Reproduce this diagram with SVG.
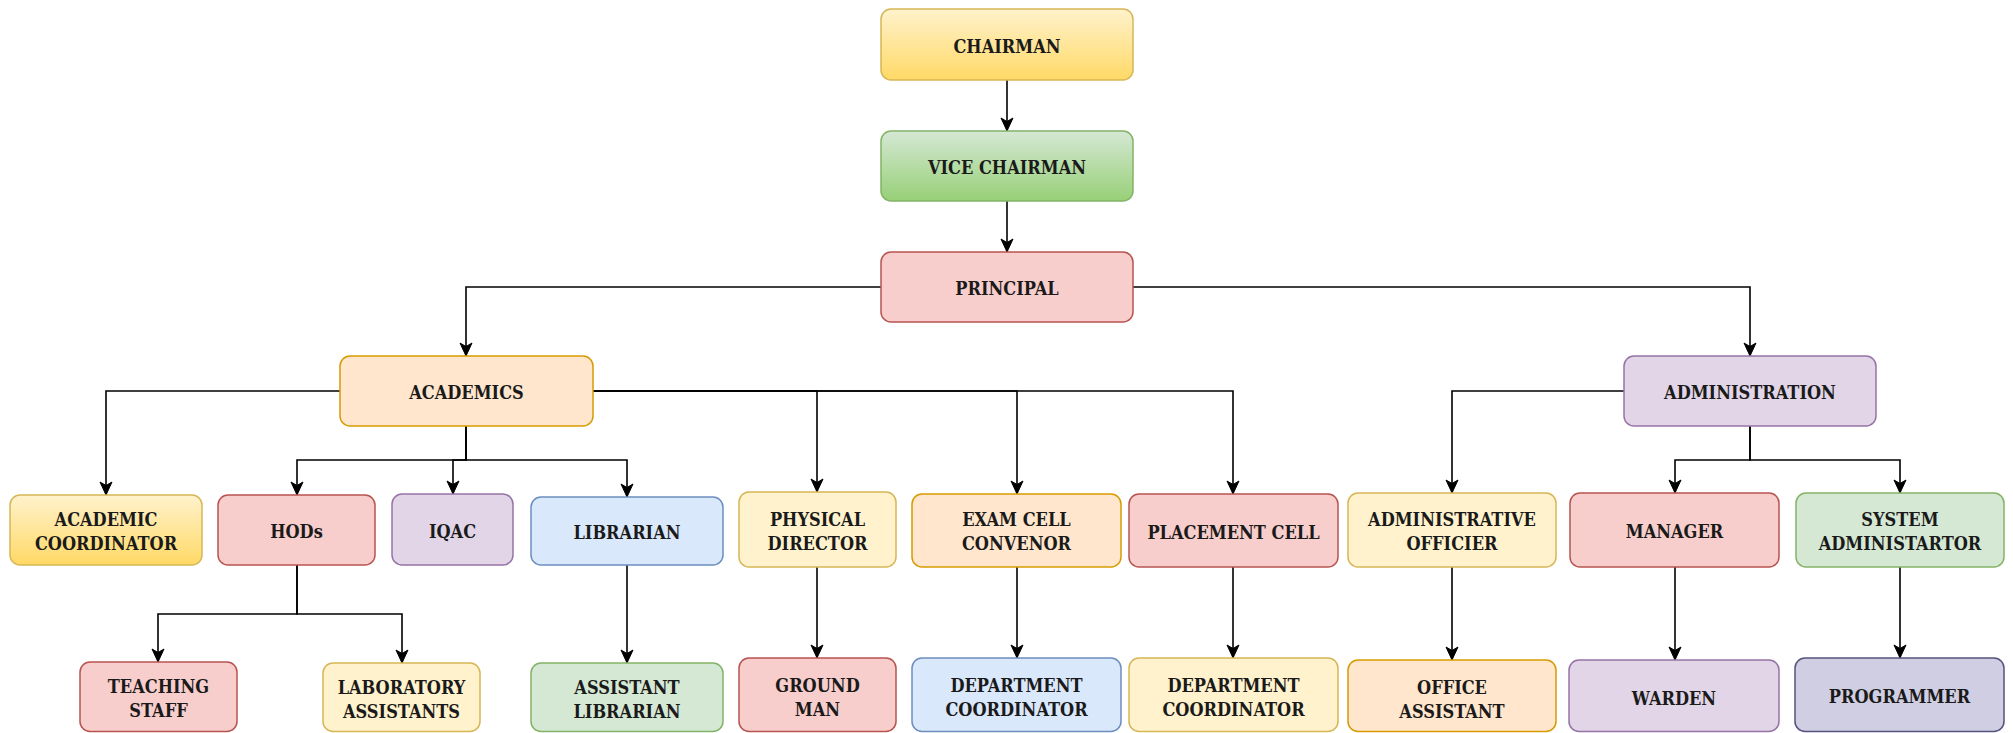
<svg xmlns="http://www.w3.org/2000/svg" width="2013" height="733" viewBox="0 0 2013 733">
<style>
text{font-family:"DejaVu Serif Condensed","DejaVu Serif","Liberation Serif",serif;font-weight:bold;font-size:18px;fill:#1a1a1a;text-anchor:middle}
.b rect{stroke-width:1.5}
.y rect{fill:#fff2cc;stroke:#d6b656}
.yg rect{fill:url(#gy);stroke:#d6b656}
.gg rect{fill:url(#gg);stroke:#82b366}
.g rect{fill:#d5e8d4;stroke:#82b366}
.r rect{fill:#f8cecc;stroke:#b85450}
.o rect{fill:#ffe6cc;stroke:#d79b00}
.p rect{fill:#e1d5e7;stroke:#9673a6}
.bl rect{fill:#dae8fc;stroke:#6c8ebf}
.n rect{fill:#d0cee2;stroke:#56517e}
#conn path{fill:none;stroke:#000;stroke-width:1.6;marker-end:url(#ar)}
</style>
<defs>
<linearGradient id="gy" x1="0" y1="0" x2="0" y2="1"><stop offset="0" stop-color="#fff2cc"/><stop offset="1" stop-color="#ffd966"/></linearGradient>
<linearGradient id="gg" x1="0" y1="0" x2="0" y2="1"><stop offset="0" stop-color="#d5e8d4"/><stop offset="1" stop-color="#97d077"/></linearGradient>
<marker id="ar" markerUnits="userSpaceOnUse" markerWidth="15" markerHeight="15" viewBox="0 0 15 15" refX="14" refY="7.5" orient="auto">
<path d="M1,1.5 L14,7.5 L1,13.5 L4.5,7.5 Z" fill="#000" stroke="#000" stroke-width="1"/>
</marker>
</defs>
<rect width="2013" height="733" fill="#fff"/>
<g id="conn">
<path d="M1007 80 V131"/>
<path d="M1007 201 V252"/>
<path d="M881 287 H466 V356"/>
<path d="M1133 287 H1750 V356"/>
<path d="M340 391 H106 V495"/>
<path d="M466 426 V460 H297 V495"/>
<path d="M466 426 V460 H453 V494"/>
<path d="M466 426 V460 H627 V497"/>
<path d="M593 391 H817 V492"/>
<path d="M593 391 H1017 V494"/>
<path d="M593 391 H1233 V494"/>
<path d="M297 565 V614 H158 V662"/>
<path d="M297 565 V614 H402 V663"/>
<path d="M627 565 V663"/>
<path d="M817 567 V658"/>
<path d="M1017 567 V658"/>
<path d="M1233 567 V658"/>
<path d="M1624 391 H1452 V493"/>
<path d="M1750 426 V460 H1675 V493"/>
<path d="M1750 426 V460 H1900 V493"/>
<path d="M1452 567 V660"/>
<path d="M1675 567 V660"/>
<path d="M1900 567 V658"/>
</g>
<g id="chairman" class="b yg"><rect x="881" y="9" width="252" height="71" rx="10"/><text x="1007" y="52.5">CHAIRMAN</text></g>
<g id="vice-chairman" class="b gg"><rect x="881" y="131" width="252" height="70" rx="10"/><text x="1007" y="174">VICE CHAIRMAN</text></g>
<g id="principal" class="b r"><rect x="881" y="252" width="252" height="70" rx="10"/><text x="1007" y="295">PRINCIPAL</text></g>
<g id="academics" class="b o"><rect x="340" y="356" width="253" height="70" rx="10"/><text x="466.5" y="399">ACADEMICS</text></g>
<g id="administration" class="b p"><rect x="1624" y="356" width="252" height="70" rx="10"/><text x="1750" y="399">ADMINISTRATION</text></g>
<g id="academic-coordinator" class="b yg"><rect x="10" y="495" width="192" height="70" rx="10"/><text x="106" y="526">ACADEMIC</text><text x="106" y="550">COORDINATOR</text></g>
<g id="hods" class="b r"><rect x="218" y="495" width="157" height="70" rx="10"/><text x="296.5" y="538">HODs</text></g>
<g id="iqac" class="b p"><rect x="392" y="494" width="121" height="71" rx="10"/><text x="452.5" y="537.5">IQAC</text></g>
<g id="librarian" class="b bl"><rect x="531" y="497" width="192" height="68" rx="10"/><text x="627" y="539">LIBRARIAN</text></g>
<g id="physical-director" class="b y"><rect x="739" y="492" width="157" height="75" rx="10"/><text x="817.5" y="525.5">PHYSICAL</text><text x="817.5" y="549.5">DIRECTOR</text></g>
<g id="exam-cell-convenor" class="b o"><rect x="912" y="494" width="209" height="73" rx="10"/><text x="1016.5" y="526">EXAM CELL</text><text x="1016.5" y="550">CONVENOR</text></g>
<g id="placement-cell" class="b r"><rect x="1129" y="494" width="209" height="73" rx="10"/><text x="1233.5" y="538.5">PLACEMENT CELL</text></g>
<g id="administrative-officier" class="b y"><rect x="1348" y="493" width="208" height="74" rx="10"/><text x="1452" y="526">ADMINISTRATIVE</text><text x="1452" y="550">OFFICIER</text></g>
<g id="manager" class="b r"><rect x="1570" y="493" width="209" height="74" rx="10"/><text x="1674.5" y="538">MANAGER</text></g>
<g id="system-administartor" class="b g"><rect x="1796" y="493" width="208" height="74" rx="10"/><text x="1900" y="526">SYSTEM</text><text x="1900" y="550">ADMINISTARTOR</text></g>
<g id="teaching-staff" class="b r"><rect x="80" y="662" width="157" height="69.5" rx="10"/><text x="158.5" y="692.5">TEACHING</text><text x="158.5" y="716.5">STAFF</text></g>
<g id="laboratory-assistants" class="b y"><rect x="323" y="663" width="157" height="68.5" rx="10"/><text x="401.5" y="693.5">LABORATORY</text><text x="401.5" y="717.5">ASSISTANTS</text></g>
<g id="assistant-librarian" class="b g"><rect x="531" y="663" width="192" height="68.5" rx="10"/><text x="627" y="693.5">ASSISTANT</text><text x="627" y="717.5">LIBRARIAN</text></g>
<g id="ground-man" class="b r"><rect x="739" y="658" width="157" height="73.5" rx="10"/><text x="817.5" y="691.5">GROUND</text><text x="817.5" y="715.5">MAN</text></g>
<g id="department-coordinator-1" class="b bl"><rect x="912" y="658" width="209" height="73.5" rx="10"/><text x="1016.5" y="691.5">DEPARTMENT</text><text x="1016.5" y="715.5">COORDINATOR</text></g>
<g id="department-coordinator-2" class="b y"><rect x="1129" y="658" width="209" height="73.5" rx="10"/><text x="1233.5" y="691.5">DEPARTMENT</text><text x="1233.5" y="715.5">COORDINATOR</text></g>
<g id="office-assistant" class="b o"><rect x="1348" y="660" width="208" height="71.5" rx="10"/><text x="1452" y="693.5">OFFICE</text><text x="1452" y="717.5">ASSISTANT</text></g>
<g id="warden" class="b p"><rect x="1569" y="660" width="210" height="71.5" rx="10"/><text x="1674" y="704.5">WARDEN</text></g>
<g id="programmer" class="b n"><rect x="1795" y="658" width="209" height="73.5" rx="10"/><text x="1899.5" y="702.5">PROGRAMMER</text></g>
</svg>
